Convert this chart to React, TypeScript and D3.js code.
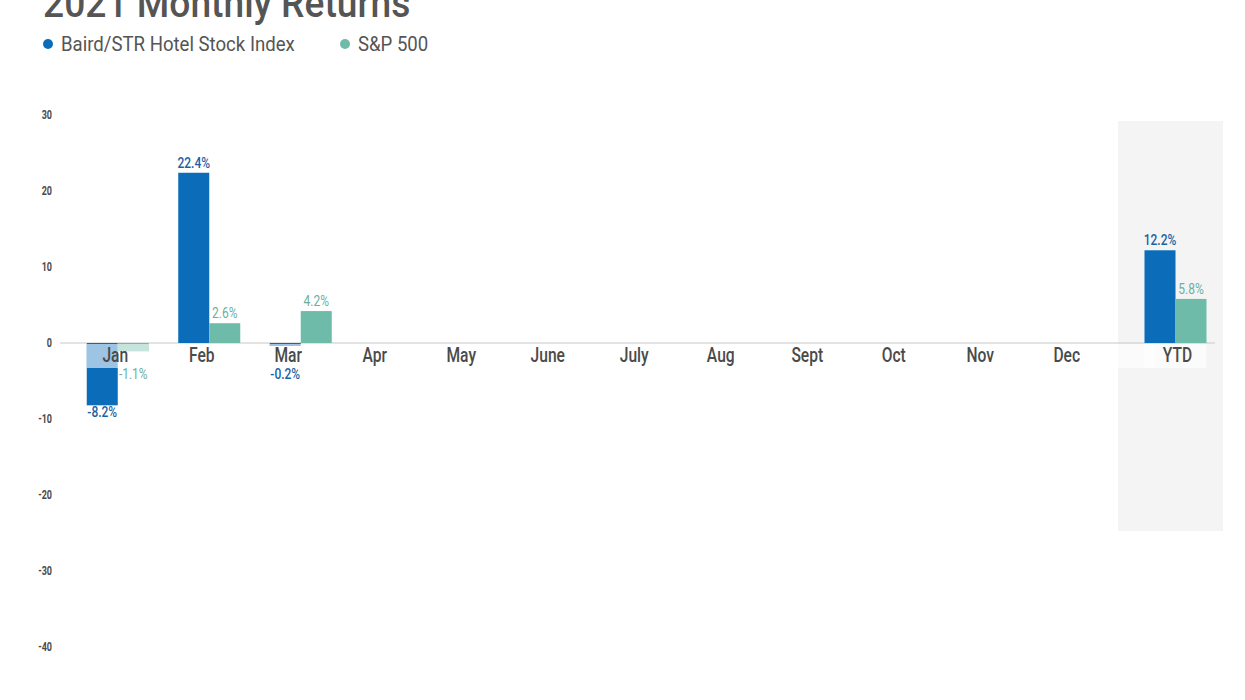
import * as d3 from 'd3';

const months = ['Jan', 'Feb', 'Mar', 'Apr', 'May', 'June', 'July', 'Aug', 'Sept', 'Oct', 'Nov', 'Dec'];
const series = ['Baird/STR Hotel Stock Index', 'S&P 500'];
const hotelValues: (number | null)[] = [-8.2, 22.4, -0.2, null, null, null, null, null, null, null, null, null];
const spValues: (number | null)[] = [-1.1, 2.6, 4.2, null, null, null, null, null, null, null, null, null];
const ytdHotel = 12.2;
const ytdSp = 5.8;
const yTicks = [30, 20, 10, 0, -10, -20, -30, -40];

const W = 1245;
const H = 700;
const FONT = 'Roboto, "Liberation Sans", sans-serif';
const BLUE = '#0b6db9';
const GREEN = '#6dbba8';
const BLUE_TXT = '#1a62a3';
const GREEN_TXT = '#6aaf9f';
const GREY_TXT = '#4a4a4a';

type Group = { label: string; values: (number | null)[]; cx: number; lx: number };

// condensed look: squeeze the glyphs horizontally
const Txt = (p: {
    x: number; y: number; size: number; fill: string; anchor?: string; weight?: number; sx?: number; children: string;
}) => (
    <text
        transform={`translate(${p.x},${p.y}) scale(${p.sx ?? 0.8},1)`}
        fontSize={p.size}
        fill={p.fill}
        fontWeight={p.weight ?? 400}
        textAnchor={p.anchor ?? 'start'}
    >
        {p.children}
    </text>
);

const App = () => {
    const y = d3.scaleLinear().domain([-40, 30]).range([647, 115]);
    // month labels and bar groups sit on slightly different pitches in the source
    const xLabel = d3.scaleBand<string>().domain(months).range([72, 1110]);
    const xBar = d3.scaleBand<string>().domain(months).range([72, 1170]);
    const ytdBand = d3.scaleBand<string>().domain(['YTD']).range([1118, 1223]);
    const sub = d3.scaleBand<string>().domain(series).range([-31, 31]);
    const colors = [BLUE, GREEN];
    const txtColors = [BLUE_TXT, GREEN_TXT];
    const zero = y(0);
    const boxH = 24;

    const groups: Group[] = months.map((m, i) => ({
        label: m,
        values: [hotelValues[i], spValues[i]],
        cx: (xBar(m) as number) + xBar.bandwidth() / 2,
        lx: (xLabel(m) as number) + xLabel.bandwidth() / 2,
    }));
    const ytdC = (ytdBand('YTD') as number) + ytdBand.bandwidth() / 2 + 5;
    groups.push({ label: 'YTD', values: [ytdHotel, ytdSp], cx: ytdC, lx: ytdC + 2 });

    return (
        <svg width={W} height={H} style={{ position: 'absolute', left: 0, top: 0, background: '#fff' }} fontFamily={FONT}>
            {/* title, cut at the top as in the source */}
            <Txt x={43} y={17} size={40} fill="#555" weight={500} sx={0.93}>2021 Monthly Returns</Txt>

            {/* legend */}
            {series.map((s, i) => {
                const lx = i === 0 ? 48 : 345;
                return (
                    <g key={s}>
                        <circle cx={lx} cy={44} r={5} fill={colors[i]} />
                        <Txt x={lx + 13} y={51} size={20} fill="#555" sx={0.93}>{s}</Txt>
                    </g>
                );
            })}

            {/* YTD highlight band */}
            <rect x={ytdBand.range()[0]} y={121} width={ytdBand.bandwidth()} height={410} fill="#f4f4f4" />

            {/* y ticks */}
            {yTicks.map((t) => (
                <Txt key={t} x={52} y={y(t) + 4} size={12} weight={700} fill={GREY_TXT} anchor="end" sx={0.75}>{String(t)}</Txt>
            ))}

            {/* zero line */}
            <line x1={60} x2={1215} y1={zero} y2={zero} stroke="#c8c8c8" strokeWidth={1.2} />

            {/* bars */}
            {groups.map((g) => (
                <g key={g.label}>
                    {g.values.map((v, i) => {
                        if (v === null) return null;
                        const bx = g.cx + (sub(series[i]) as number);
                        const top = Math.min(y(v), zero);
                        const h = Math.abs(y(v) - zero);
                        return <rect key={i} x={bx} y={top} width={sub.bandwidth()} height={Math.max(h, 3)} fill={colors[i]} />;
                    })}
                </g>
            ))}

            {/* category label boxes + labels */}
            {groups.map((g) => (
                <g key={'l' + g.label}>
                    <rect x={g.cx - 31} y={zero + 1} width={62} height={boxH} fill="#fff" opacity={0.6} />
                    <Txt x={g.lx} y={zero + 19} size={20} fill={GREY_TXT} anchor="middle" weight={500} sx={0.78}>{g.label}</Txt>
                </g>
            ))}

            {/* value labels */}
            {groups.map((g) =>
                g.values.map((v, i) => {
                    if (v === null) return null;
                    const bx = g.cx + (sub(series[i]) as number) + sub.bandwidth() / 2;
                    const ly = v >= 0 ? y(v) - 5 : Math.max(y(v), zero + boxH) + 12;
                    return (
                        <Txt key={g.label + i} x={bx} y={ly} size={15} fill={txtColors[i]} weight={i === 0 ? 500 : 400} anchor="middle" sx={0.8}>
                            {v.toFixed(1) + '%'}
                        </Txt>
                    );
                })
            )}
        </svg>
    );
};

export default App;
